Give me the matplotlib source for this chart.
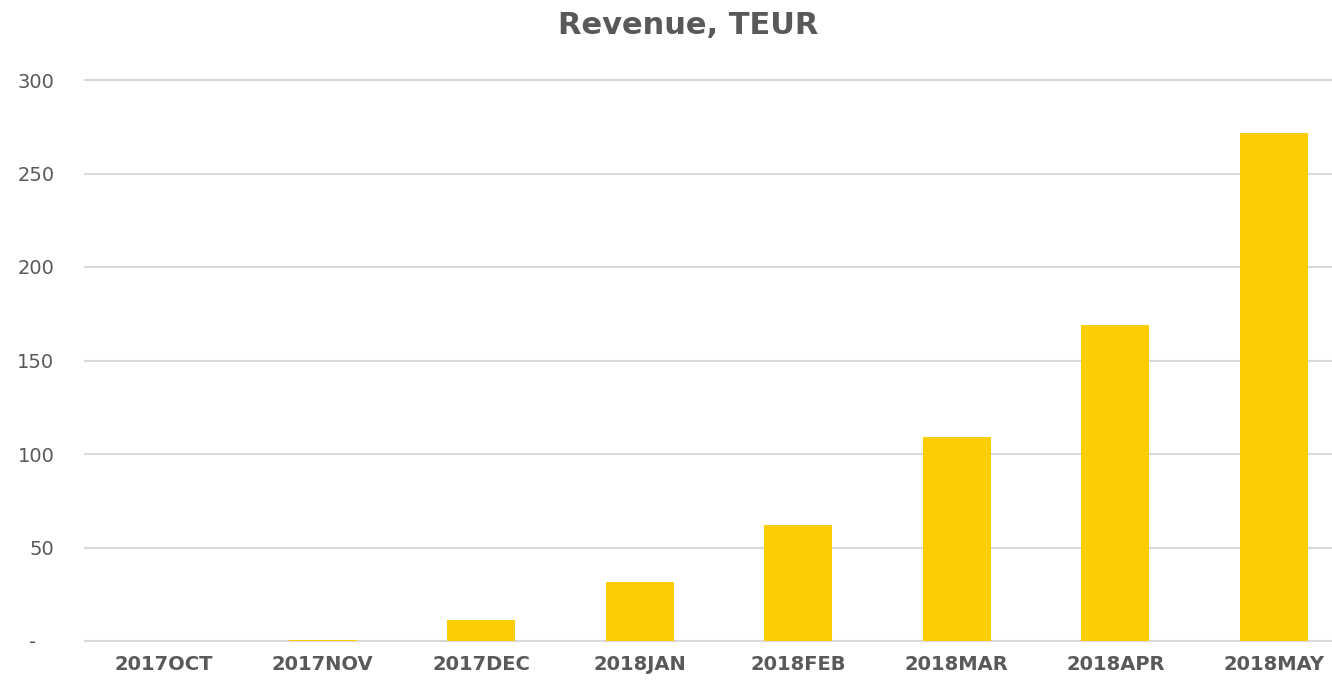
import numpy as np
import matplotlib
matplotlib.use("Agg")
import matplotlib.pyplot as plt

monate = ["2017OCT", "2017NOV", "2017DEC", "2018JAN", "2018FEB", "2018MAR", "2018APR", "2018MAY"]
umsatz = [0, 0.5, 11, 31.5, 62, 109, 169, 271.5]
yticks = [0, 50, 100, 150, 200, 250, 300]
ylabels = ["-   ", "50", "100", "150", "200", "250", "300"]

textfarbe = "#595959"
balken = "#FDCD04"

plt.rcParams["font.family"] = "DejaVu Sans"

fig = plt.figure(figsize=(13.32, 6.84), dpi=100)
# Plotflaeche reicht rechts ueber den Bildrand hinaus (wie im Original)
ax = fig.add_axes([85 / 1332, (684 - 641) / 684, 1268 / 1332, 561 / 684])

x = np.arange(len(monate))
ax.bar(x, umsatz, width=0.43, color=balken, zorder=3)

ax.set_xlim(-0.5, len(monate) - 0.5)
ax.set_ylim(0, 300)
ax.set_yticks(yticks)
ax.set_yticklabels(ylabels)
ax.set_xticks(x)
ax.set_xticklabels(monate, fontweight="bold")
ax.tick_params(axis="y", length=0, pad=22, labelsize=14, labelcolor=textfarbe)
ax.tick_params(axis="x", length=0, pad=10, labelsize=14, labelcolor=textfarbe)

ax.grid(axis="y", color="#d9d9d9", linewidth=1.5, zorder=0)
for linie in ax.get_ygridlines():
    linie.set_clip_on(False)
for s in ["top", "right", "left", "bottom"]:
    ax.spines[s].set_visible(False)

fig.text(688 / 1332, 1 - 26 / 684, "Revenue, TEUR", ha="center", va="center",
         fontsize=22, fontweight="bold", color=textfarbe)

fig.savefig("out.png", dpi=100)
